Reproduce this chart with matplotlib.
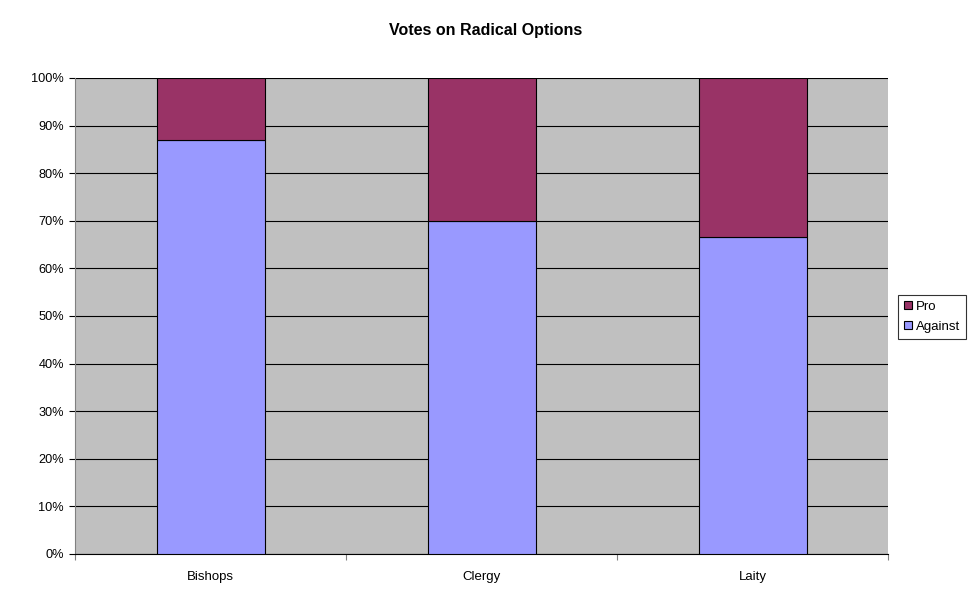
import matplotlib
matplotlib.use("Agg")
import matplotlib.pyplot as plt
import numpy as np
from matplotlib.ticker import PercentFormatter

categories = ["Bishops", "Clergy", "Laity"]
against = [87.0, 70.0, 66.6]
pro = [13.0, 30.0, 33.4]

plt.rcParams['font.family'] = ['Liberation Sans', 'DejaVu Sans']

fig = plt.figure(figsize=(9.73, 6.0), dpi=100)
ax = fig.add_axes([75/973, 46/600, 813/973, 476/600])
ax.set_facecolor("#c0c0c0")

x = np.arange(len(categories)) + 0.5
w = 108/271
ax.bar(x, against, w, color="#9999ff", edgecolor="black", linewidth=0.8, label="Against", zorder=3)
ax.bar(x, pro, w, bottom=against, color="#993366", edgecolor="black", linewidth=0.8, label="Pro", zorder=3)

ax.set_xlim(0, 3)
ax.set_ylim(0, 100)
ax.set_yticks(np.arange(0, 101, 10))
ax.yaxis.set_major_formatter(PercentFormatter(decimals=0))
ax.yaxis.grid(True, color="black", linewidth=0.8, zorder=1)
ax.set_axisbelow(True)
ax.set_xticks([0, 1, 2, 3])
ax.set_xticklabels([])
ax.set_xticks(x, minor=True)
ax.set_xticklabels(categories, minor=True)
ax.tick_params(axis="x", which="minor", length=0, pad=12, labelsize=9.5)
ax.tick_params(axis="x", which="major", length=4, direction="out", color="#808080")
ax.tick_params(axis="y", length=4, direction="out", labelsize=9.2, pad=4)
for s in ["top", "right"]:
    ax.spines[s].set_visible(False)
ax.spines["left"].set_color("#808080")
ax.spines["bottom"].set_color("black")

fig.suptitle("Votes on Radical Options", x=486/973, y=1 - 31/600, va="center", fontsize=11.5, fontweight="bold")

handles, labels = ax.get_legend_handles_labels()
leg = fig.legend(handles[::-1], labels[::-1], loc="upper left", bbox_to_anchor=(898/973, 1 - 295/600),
                 fontsize=9.5, frameon=True, fancybox=False, edgecolor="black", handlelength=0.6,
                 handleheight=0.6, handletextpad=0.3, borderpad=0.45, labelspacing=0.6, borderaxespad=0)
leg.get_frame().set_linewidth(0.8)

fig.savefig("out.png", dpi=100, facecolor="white")
